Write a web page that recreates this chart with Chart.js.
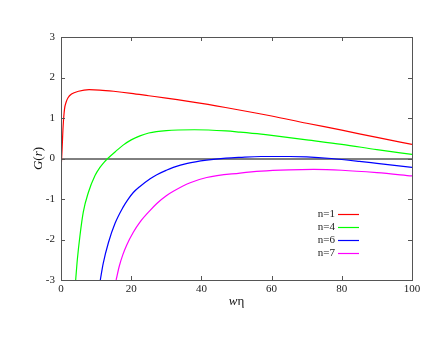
<!DOCTYPE html>
<html>
<head>
<meta charset="utf-8">
<script src="https://cdn.jsdelivr.net/npm/chart.js@4"></script>
<style>
    html, body { margin: 0; padding: 0; background: #fff; }
    #wrap { width: 436px; height: 337px; }
</style>
</head>
<body>
<div id="wrap"><canvas id="gChart" width="436" height="337"></canvas></div>
<script>
// curves: [w*eta, G(r)]
const n1 = [[0, -0.3], [0.3, 0.21], [0.6, 0.79], [1, 1.22], [1.5, 1.40], [2, 1.50], [3, 1.59], [5, 1.66], [8, 1.70], [11, 1.69], [15, 1.66], [20, 1.61], [25, 1.55], [30, 1.49], [40, 1.36], [50, 1.21], [60, 1.05], [70, 0.87], [80, 0.70], [90, 0.52], [100, 0.35]];
const n4 = [[4.18, -3.0], [4.65, -2.5], [5.41, -1.9], [6.36, -1.32], [7.79, -0.84], [9.69, -0.42], [11.1, -0.22], [12.2, -0.10], [13.3, 0.0], [15.9, 0.20], [17.7, 0.33], [20, 0.46], [22.5, 0.56], [25, 0.63], [30, 0.69], [38, 0.71], [47, 0.68], [51, 0.65], [57, 0.60], [60, 0.57], [70, 0.46], [80, 0.35], [90, 0.22], [100, 0.10]];
const n6 = [[11.2, -3.0], [12, -2.6], [13.5, -2.08], [15.4, -1.6], [17.7, -1.2], [19, -1.02], [20.6, -0.84], [22.5, -0.69], [25.4, -0.50], [27.3, -0.40], [30, -0.29], [32, -0.22], [36, -0.12], [41.5, -0.04], [47, 0.01], [51, 0.03], [57, 0.05], [65, 0.05], [70, 0.04], [77, 0.0], [85, -0.07], [90, -0.12], [100, -0.22]];
const n7 = [[15.7, -3.0], [16.6, -2.66], [17.6, -2.38], [18.7, -2.14], [20.6, -1.82], [22.5, -1.57], [25.4, -1.28], [27.3, -1.11], [30, -0.92], [32, -0.81], [36.8, -0.60], [41.5, -0.47], [51, -0.36], [57, -0.31], [65, -0.28], [72, -0.27], [80, -0.29], [90, -0.35], [100, -0.43]];

const seriesLabels = ["n=1", "n=4", "n=6", "n=7"];
const seriesColors = ["#ff0000", "#00ff00", "#0000ff", "#ff00ff"];
const xTicks = [0, 20, 40, 60, 80, 100];
const yTicks = [-3, -2, -1, 0, 1, 2, 3];

const serif = "'Liberation Serif', 'DejaVu Serif', serif";

// frame, inward ticks, zero line, axis titles and legend, gnuplot style
const gnuplotBits = {
    id: "gnuplotBits",
    beforeDatasetsDraw(chart) {
        const ctx = chart.ctx;
        const a = chart.chartArea;
        const y0 = chart.scales.y.getPixelForValue(0);
        ctx.save();
        ctx.strokeStyle = "#000";
        ctx.lineWidth = 1;
        ctx.beginPath();
        ctx.moveTo(a.left, y0 + 0.5);
        ctx.lineTo(a.right, y0 + 0.5);
        ctx.stroke();
        ctx.restore();
    },
    afterDatasetsDraw(chart) {
        const ctx = chart.ctx;
        const a = chart.chartArea;
        const xs = chart.scales.x;
        const ys = chart.scales.y;
        ctx.save();
        ctx.strokeStyle = "#555";
        ctx.lineWidth = 1;
        ctx.strokeRect(a.left + 0.5, a.top + 0.5, a.right - a.left, a.bottom - a.top);

        const tl = 4;
        ctx.beginPath();
        xTicks.forEach(v => {
            const px = Math.round(xs.getPixelForValue(v)) + 0.5;
            ctx.moveTo(px, a.bottom); ctx.lineTo(px, a.bottom - tl);
            ctx.moveTo(px, a.top); ctx.lineTo(px, a.top + tl);
        });
        yTicks.forEach(v => {
            const py = Math.round(ys.getPixelForValue(v)) + 0.5;
            ctx.moveTo(a.left, py); ctx.lineTo(a.left + tl, py);
            ctx.moveTo(a.right, py); ctx.lineTo(a.right - tl, py);
        });
        ctx.stroke();

        // legend
        ctx.font = "11px " + serif;
        ctx.textBaseline = "middle";
        ctx.textAlign = "right";
        seriesLabels.forEach((lab, i) => {
            const ly = 214 + i * 13;
            ctx.fillStyle = "#222";
            ctx.fillText(lab, 335, ly);
            ctx.strokeStyle = seriesColors[i];
            ctx.lineWidth = 1.2;
            ctx.beginPath();
            ctx.moveTo(338, ly + 0.5);
            ctx.lineTo(359, ly + 0.5);
            ctx.stroke();
        });

        // x title: italic w, upright eta
        ctx.fillStyle = "#111";
        ctx.textAlign = "left";
        ctx.textBaseline = "alphabetic";
        const cx = (a.left + a.right) / 2;
        ctx.font = "italic 13px " + serif;
        const ww = ctx.measureText("w").width;
        ctx.font = "13px " + serif;
        const we = ctx.measureText("\u03b7").width;
        let sx = cx - (ww + we) / 2;
        ctx.font = "italic 13px " + serif;
        ctx.fillText("w", sx, 305);
        ctx.font = "13px " + serif;
        ctx.fillText("\u03b7", sx + ww, 305);

        // y title: G(r)
        ctx.translate(42, (a.top + a.bottom) / 2);
        ctx.rotate(-Math.PI / 2);
        const parts = [["G", true], ["(", false], ["r", true], [")", false]];
        let tw = 0;
        parts.forEach(p => {
            ctx.font = (p[1] ? "italic " : "") + "13px " + serif;
            tw += ctx.measureText(p[0]).width;
        });
        let px = -tw / 2;
        parts.forEach(p => {
            ctx.font = (p[1] ? "italic " : "") + "13px " + serif;
            ctx.fillText(p[0], px, 0);
            px += ctx.measureText(p[0]).width;
        });
        ctx.restore();
    }
};

const toPts = arr => arr.map(p => ({ x: p[0], y: p[1] }));

new Chart(document.getElementById("gChart"), {
    type: "line",
    data: {
        datasets: [n1, n4, n6, n7].map((d, i) => ({
            label: seriesLabels[i],
            data: toPts(d),
            borderColor: seriesColors[i],
            borderWidth: 1.2,
            pointRadius: 0,
            cubicInterpolationMode: "monotone",
            fill: false
        }))
    },
    options: {
        responsive: false,
        animation: false,
        devicePixelRatio: 1,
        layout: { padding: { left: 0, right: 24, top: 37, bottom: 0 } },
        plugins: { legend: { display: false }, tooltip: { enabled: false } },
        scales: {
            x: {
                type: "linear",
                min: 0,
                max: 100,
                afterFit: s => { s.height = 57; },
                afterBuildTicks: s => { s.ticks = xTicks.map(v => ({ value: v })); },
                grid: { display: false, drawTicks: false },
                border: { display: false },
                ticks: { color: "#222", font: { family: serif, size: 11 }, padding: 3, maxRotation: 0 }
            },
            y: {
                type: "linear",
                min: -3,
                max: 3,
                afterFit: s => { s.width = 61; },
                afterBuildTicks: s => { s.ticks = yTicks.map(v => ({ value: v })); },
                grid: { display: false, drawTicks: false },
                border: { display: false },
                ticks: { color: "#222", font: { family: serif, size: 11 }, padding: 6 }
            }
        }
    },
    plugins: [gnuplotBits]
});
</script>
</body>
</html>
